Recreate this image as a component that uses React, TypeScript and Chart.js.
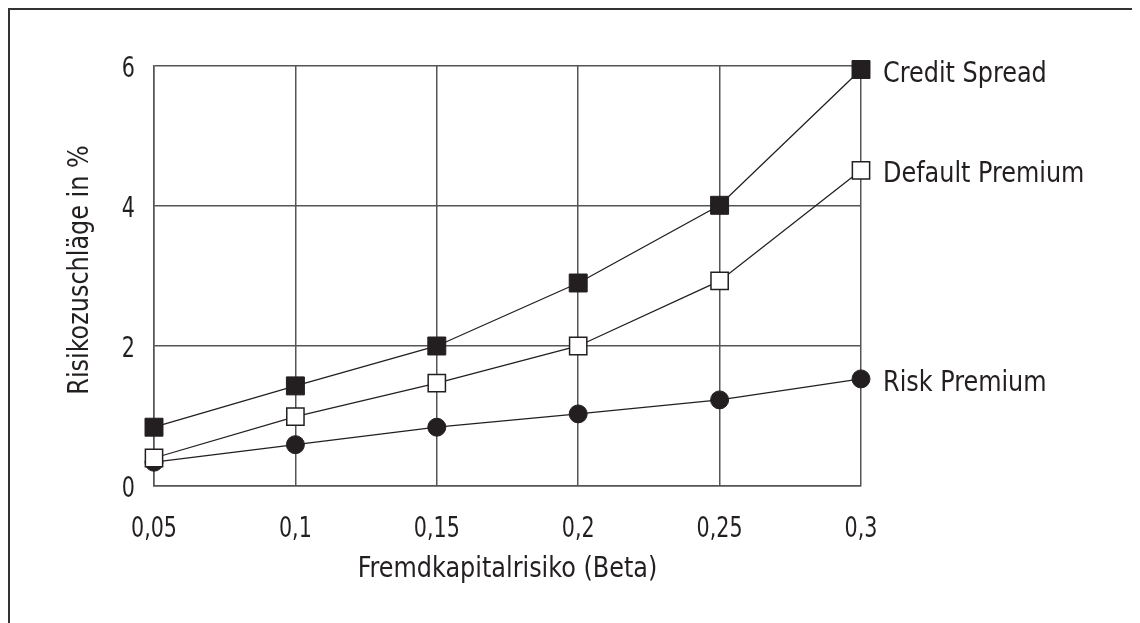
import React, { useEffect, useRef } from "react";
import { Chart, registerables } from "chart.js";

Chart.register(...registerables);

const xLabels = ["0,05", "0,1", "0,15", "0,2", "0,25", "0,3"];
const seriesNames = ["Credit Spread", "Default Premium", "Risk Premium"];
const creditSpread = [0.84, 1.43, 2.0, 2.9, 4.01, 5.95];
const defaultPremium = [0.4, 0.99, 1.47, 2.0, 2.93, 4.51];
const riskPremium = [0.34, 0.59, 0.84, 1.03, 1.23, 1.53];
const xTitle = "Fremdkapitalrisiko (Beta)";
const yTitle = "Risikozuschläge in %";

const FONT = "'DejaVu Sans Condensed', 'Liberation Sans Narrow', sans-serif";
const INK = "#231f20";
const GRID = "#555555";
const TEXT_SX = 0.95;
const DIGIT_SX = 0.82;

function drawText(
  ctx: CanvasRenderingContext2D,
  text: string,
  x: number,
  y: number,
  align: CanvasTextAlign,
  sx: number,
  rotate = 0
) {
  ctx.save();
  ctx.translate(x, y);
  if (rotate) ctx.rotate(rotate);
  ctx.scale(sx, 1);
  ctx.textAlign = align;
  ctx.textBaseline = "alphabetic";
  ctx.fillText(text, 0, 0);
  ctx.restore();
}

const labelPlugin = {
  id: "customText",
  afterDraw(chart: any) {
    const ctx = chart.ctx as CanvasRenderingContext2D;
    const area = chart.chartArea;
    ctx.save();
    ctx.fillStyle = INK;
    ctx.font = `28px ${FONT}`;
    // y tick labels
    const ys = chart.scales.y;
    ys.ticks.forEach((t: any) => {
      const py = ys.getPixelForValue(t.value);
      drawText(ctx, String(t.label), area.left - 19, py + 11, "right", DIGIT_SX);
    });
    // x tick labels
    const xs = chart.scales.x;
    xs.ticks.forEach((t: any, i: number) => {
      const px = xs.getPixelForTick(i);
      drawText(ctx, String(t.label), px, area.bottom + 51, "center", DIGIT_SX);
    });
    // series labels next to the last point
    chart.data.datasets.forEach((ds: any, i: number) => {
      const meta = chart.getDatasetMeta(i);
      const pt = meta.data[meta.data.length - 1];
      if (!pt) return;
      drawText(ctx, ds.label, pt.x + 22, pt.y + 12, "left", TEXT_SX);
    });
    // x title
    drawText(ctx, xTitle, (area.left + area.right) / 2, 567, "center", TEXT_SX);
    // y title
    drawText(ctx, yTitle, 78, (area.top + area.bottom) / 2 - 6, "center", TEXT_SX, -Math.PI / 2);
    ctx.restore();
  },
};

export default function App() {
  const ref = useRef<HTMLCanvasElement>(null);
  useEffect(() => {
    if (!ref.current) return;
    const chart = new Chart(ref.current, {
      type: "line",
      data: {
        labels: xLabels,
        datasets: [
          {
            label: seriesNames[0],
            data: creditSpread,
            borderColor: INK,
            borderWidth: 1.3,
            pointStyle: "rect",
            pointRadius: 12.7,
            pointBackgroundColor: INK,
            pointBorderColor: INK,
            pointBorderWidth: 1,
            clip: false as any,
          },
          {
            label: seriesNames[1],
            data: defaultPremium,
            borderColor: INK,
            borderWidth: 1.3,
            pointStyle: "rect",
            pointRadius: 12.2,
            pointBackgroundColor: "#ffffff",
            pointBorderColor: INK,
            pointBorderWidth: 1.5,
            clip: false as any,
          },
          {
            label: seriesNames[2],
            data: riskPremium,
            borderColor: INK,
            borderWidth: 1.3,
            pointStyle: "circle",
            pointRadius: 9,
            pointBackgroundColor: INK,
            pointBorderColor: INK,
            pointBorderWidth: 1,
            clip: false as any,
          },
        ],
      },
      options: {
        animation: false,
        responsive: false,
        devicePixelRatio: 1,
        layout: { padding: { left: 0, top: 56, right: 279, bottom: 0 } },
        plugins: {
          legend: { display: false },
          tooltip: { enabled: false },
        },
        scales: {
          x: {
            type: "category",
            offset: false,
            grid: { color: GRID, lineWidth: 1.5, drawTicks: false },
            border: { color: GRID, width: 1.5 },
            ticks: { display: false, autoSkip: false, maxRotation: 0 },
            afterFit: (s: any) => {
              s.height = 137;
            },
          },
          y: {
            min: 0,
            max: 6,
            grid: { color: GRID, lineWidth: 1.5, drawTicks: false },
            border: { color: GRID, width: 1.5 },
            ticks: { display: false, stepSize: 2 },
            afterFit: (s: any) => {
              s.width = 144;
            },
          },
        },
      },
      plugins: [labelPlugin],
    });
    return () => chart.destroy();
  }, []);

  return (
    <div
      style={{
        width: 1132,
        height: 615,
        borderTop: "2px solid #333",
        borderLeft: "2px solid #333",
        boxSizing: "border-box",
        background: "#fff",
      }}
    >
      <canvas ref={ref} width={1130} height={613} style={{ display: "block" }} />
    </div>
  );
}
